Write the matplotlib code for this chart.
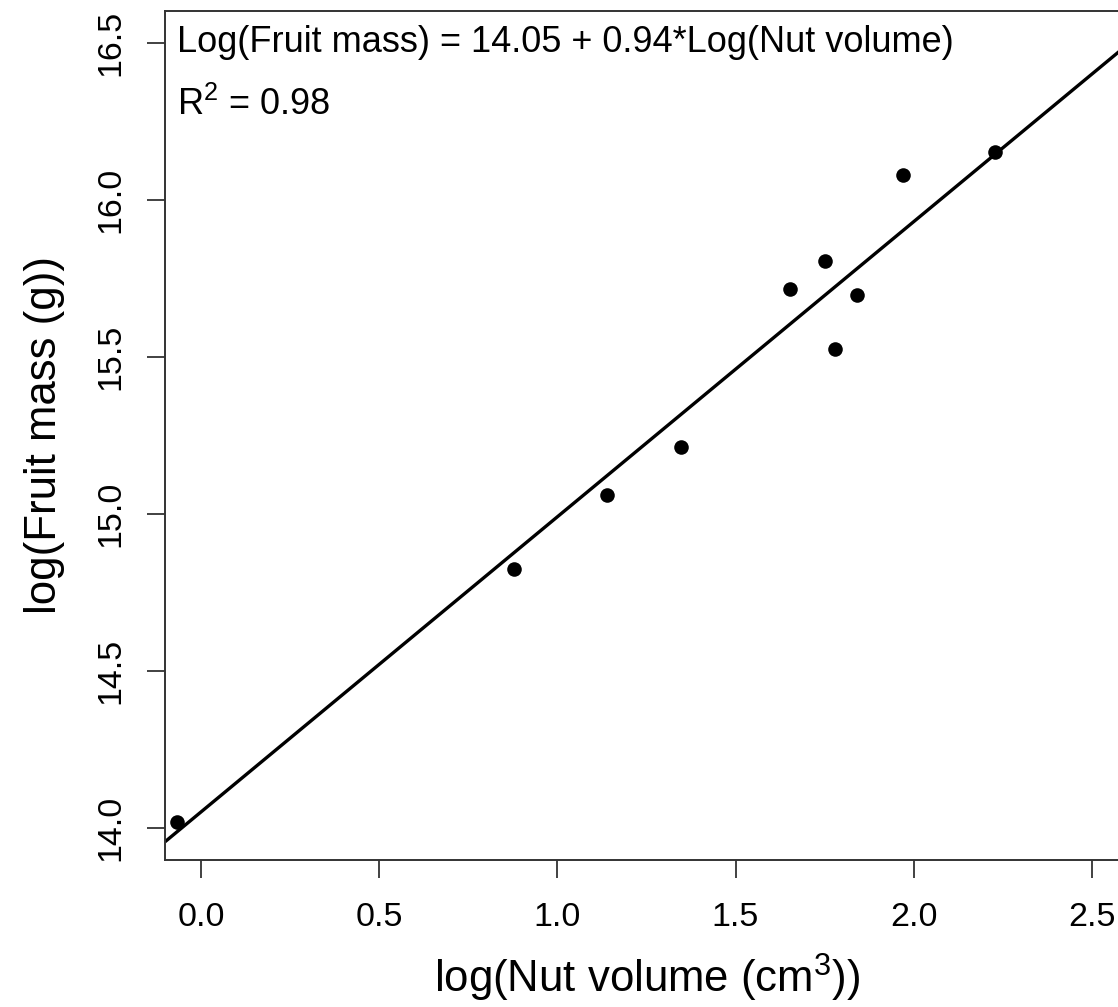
import matplotlib
matplotlib.use("Agg")
import matplotlib.pyplot as plt
import numpy as np

plt.rcParams['font.family'] = ['Liberation Sans', 'DejaVu Sans']
plt.rcParams['mathtext.fontset'] = 'custom'
plt.rcParams['mathtext.rm'] = 'Liberation Sans'
plt.rcParams['mathtext.it'] = 'Liberation Sans'
plt.rcParams['mathtext.bf'] = 'Liberation Sans'

log_nut_volume = [-0.067, 0.879, 1.138, 1.346, 1.654, 1.750, 1.778, 1.840, 1.969, 2.228]
log_fruit_mass = [14.019, 14.825, 15.061, 15.213, 15.717, 15.806, 15.525, 15.697, 16.080, 16.153]
intercept = 14.05
slope = 0.94
x_ticks = [0.0, 0.5, 1.0, 1.5, 2.0, 2.5]
y_ticks = [14.0, 14.5, 15.0, 15.5, 16.0, 16.5]

W, H = 1118, 1007
fig = plt.figure(figsize=(W/100, H/100), dpi=100)
left, right, top, bottom = 165, 1130, 11, 860
ax = fig.add_axes([left/W, (H-bottom)/H, (right-left)/W, (bottom-top)/H])

xlim = (-0.101, 2.607)
ylim = (13.897, 16.601)
ax.set_xlim(*xlim)
ax.set_ylim(*ylim)

xl = np.array(xlim)
ax.plot(xl, intercept + slope*xl, color='black', lw=2.4, solid_capstyle='butt')
ax.scatter(log_nut_volume, log_fruit_mass, s=110, color='black', zorder=3, linewidths=0)

ax.set_xticks(x_ticks)
ax.set_xticklabels([f"{v:.1f}" for v in x_ticks])
ax.set_yticks(y_ticks)
ax.set_yticklabels([f"{v:.1f}" for v in y_ticks], rotation=90, va='center')
ax.tick_params(axis='both', direction='out', length=13, width=1.3, labelsize=24.5, color='#333333')
ax.tick_params(axis='x', pad=17)
ax.tick_params(axis='y', pad=15)
for s in ax.spines.values():
    s.set_linewidth(1.4)
    s.set_color('#333333')

ax.set_xlabel("log(Nut volume (cm$^3$))", fontsize=31.5, labelpad=14)
ax.set_ylabel("log(Fruit mass (g))", fontsize=31.5, labelpad=22)

ax.text(177, H-43, "Log(Fruit mass) = 14.05 + 0.94*Log(Nut volume)", transform=None,
        fontsize=26, va='center', ha='left')
ax.text(177, H-105, "R$^2$ = 0.98", transform=None, fontsize=26, va='center', ha='left')

fig.savefig("out.png", dpi=100)
